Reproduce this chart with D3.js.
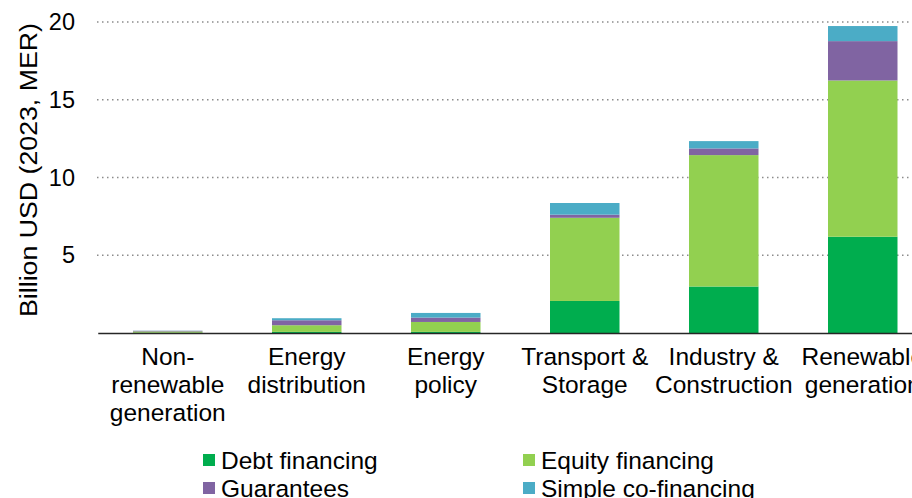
<!DOCTYPE html>
<html><head><meta charset="utf-8">
<script src="https://cdn.jsdelivr.net/npm/d3@7"></script>
<style>html,body{margin:0;padding:0;background:#fff;overflow:hidden}svg{display:block}</style>
</head><body>
<svg id="c" width="912" height="498"></svg>
<script>
const categories = ["Non-renewable generation","Energy distribution","Energy policy","Transport & Storage","Industry & Construction","Renewable generation"];
const categoryLines = [["Non-","renewable","generation"],["Energy","distribution"],["Energy","policy"],["Transport &","Storage"],["Industry &","Construction"],["Renewable","generation"]];
const seriesNames = ["Debt financing","Equity financing","Guarantees","Simple co-financing"];
const debt = [0.02, 0.07, 0.07, 2.06, 2.99, 6.19];
const equity = [0.08, 0.43, 0.64, 5.35, 8.45, 10.05];
const guarantees = [0.04, 0.32, 0.28, 0.20, 0.43, 2.53];
const cofinancing = [0.01, 0.13, 0.30, 0.75, 0.47, 0.97];
const yTicks = [5, 10, 15, 20];
const colors = ["#00AD4E", "#92D050", "#8064A2", "#4BACC6"];

const svg = d3.select("#c");
const font = "'Liberation Sans', Arial, sans-serif";
const x0 = 98.25, baseY = 333;
const x = d3.scaleBand().domain(categories).range([x0, 932.25]).paddingInner(0.5).paddingOuter(0.25);
const y = d3.scaleLinear().domain([0, 20]).range([baseY, 22]);

const rows = categories.map((c, i) => ({cat: c, "Debt financing": debt[i], "Equity financing": equity[i], "Guarantees": guarantees[i], "Simple co-financing": cofinancing[i]}));
const stack = d3.stack().keys(seriesNames)(rows);

// gridlines
svg.append("g").selectAll("line").data(yTicks).join("line")
  .attr("x1", 97).attr("x2", 912).attr("y1", d => y(d)).attr("y2", d => y(d))
  .attr("stroke", "#8c8c8c").attr("stroke-width", 1.3).attr("stroke-dasharray", "1.5,3.5");

// bars
svg.append("g").selectAll("g").data(stack).join("g").attr("fill", (d, i) => colors[i])
  .selectAll("rect").data(d => d).join("rect")
  .attr("x", d => x(d.data.cat)).attr("width", x.bandwidth())
  .attr("y", d => y(d[1])).attr("height", d => Math.max(0, y(d[0]) - y(d[1])));

// x axis line
svg.append("line").attr("x1", x0).attr("x2", 912).attr("y1", baseY + 0.5).attr("y2", baseY + 0.5)
  .attr("stroke", "#262626").attr("stroke-width", 1.5);

// y tick labels
const yAxis = d3.axisLeft(y).tickValues(yTicks).tickSize(0).tickPadding(0);
const ya = svg.append("g").attr("transform", "translate(75,0)").call(yAxis);
ya.select(".domain").remove();
ya.selectAll("text").attr("font-family", font).attr("font-size", 23.5).attr("fill", "#000");

// y title
svg.append("text").attr("transform", "translate(37,170) rotate(-90)")
  .attr("text-anchor", "middle").attr("font-family", font).attr("font-size", 23.5).attr("fill", "#000")
  .attr("textLength", 294).attr("lengthAdjust", "spacingAndGlyphs")
  .text("Billion USD (2023, MER)");

// category labels
const cl = svg.append("g");
categories.forEach((c, i) => {
  const t = cl.append("text").attr("text-anchor", "middle").attr("font-family", font).attr("font-size", 24.5).attr("fill", "#000");
  categoryLines[i].forEach((ln, j) => {
    t.append("tspan").attr("x", x(c) + x.bandwidth() / 2).attr("y", 365 + j * 28).text(ln);
  });
});

// legend
const legPos = [[203, 454], [523, 454], [203, 482], [523, 482]];
const lg = svg.append("g").selectAll("g").data(seriesNames).join("g")
  .attr("transform", (d, i) => `translate(${legPos[i][0]},${legPos[i][1]})`);
lg.append("rect").attr("width", 12).attr("height", 12).attr("fill", (d, i) => colors[i]);
lg.append("text").attr("x", 18).attr("y", 15).attr("font-family", font).attr("font-size", 24.5).attr("fill", "#000").text(d => d);
</script>
</body></html>
